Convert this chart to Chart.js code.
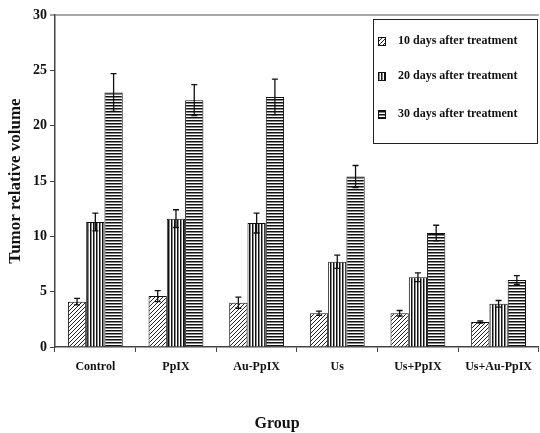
<!DOCTYPE html>
<html>
<head>
<meta charset="utf-8">
<script src="https://cdn.jsdelivr.net/npm/chart.js@4"></script>
<style>
  html, body { margin: 0; padding: 0; background: #fff; }
  #wrap { width: 540px; height: 433px; }
</style>
</head>
<body>
<div id="wrap"><canvas id="c" width="540" height="433"></canvas></div>
<script>
// Tumor relative volume per treatment group
const groups = ['Control', 'PpIX', 'Au-PpIX', 'Us', 'Us+PpIX', 'Us+Au-PpIX'];
const seriesLabels = ['10 days after treatment', '20 days after treatment', '30 days after treatment'];
const day10 = [4.1, 4.6, 4.0, 3.05, 3.05, 2.25];
const day20 = [11.3, 11.6, 11.2, 7.7, 6.3, 3.9];
const day30 = [23.0, 22.3, 22.6, 15.4, 10.3, 6.05];
const err10 = [0.3, 0.5, 0.5, 0.2, 0.25, 0.1];
const err20 = [0.8, 0.8, 0.9, 0.6, 0.4, 0.3];
const err30 = [1.7, 1.4, 1.6, 1.0, 0.7, 0.4];
const yTicks = [0, 5, 10, 15, 20, 25, 30];
const xTitle = 'Group';

const FONT = '"Liberation Serif", "Times New Roman", serif';

function makePattern(kind) {
  const p = document.createElement('canvas');
  const g = p.getContext('2d');
  if (kind === 'diag') {
    p.width = 4; p.height = 4;
    g.fillStyle = '#fff'; g.fillRect(0, 0, 4, 4);
    g.strokeStyle = '#222'; g.lineWidth = 1;
    g.beginPath();
    g.moveTo(-1, 5); g.lineTo(5, -1);
    g.moveTo(-1, 1); g.lineTo(1, -1);
    g.moveTo(3, 5); g.lineTo(5, 3);
    g.stroke();
  } else if (kind === 'vert') {
    p.width = 3; p.height = 3;
    g.fillStyle = '#fff'; g.fillRect(0, 0, 3, 3);
    g.fillStyle = '#111'; g.fillRect(0, 0, 1, 3);
    g.fillStyle = '#888'; g.fillRect(1, 0, 1, 3);
  } else {
    p.width = 3; p.height = 3;
    g.fillStyle = '#fff'; g.fillRect(0, 0, 3, 3);
    g.fillStyle = '#111'; g.fillRect(0, 0, 3, 1);
    g.fillStyle = '#888'; g.fillRect(0, 1, 3, 1);
  }
  return document.getElementById('c').getContext('2d').createPattern(p, 'repeat');
}
const fills = [makePattern('diag'), makePattern('vert'), makePattern('horiz')];
const errors = [err10, err20, err30];

// Error bars drawn from each dataset's value and its error
const errorBars = {
  id: 'errorBars',
  afterDatasetsDraw(chart) {
    const ctx = chart.ctx;
    const y = chart.scales.y;
    ctx.save();
    ctx.strokeStyle = '#111';
    ctx.lineWidth = 1.3;
    chart.data.datasets.forEach((ds, i) => {
      const meta = chart.getDatasetMeta(i);
      meta.data.forEach((bar, j) => {
        const v = ds.data[j], e = errors[i][j];
        const yt = y.getPixelForValue(v + e), yb = y.getPixelForValue(v - e);
        const x = bar.x;
        ctx.beginPath();
        ctx.moveTo(x, yt); ctx.lineTo(x, yb);
        ctx.moveTo(x - 3, yt); ctx.lineTo(x + 3, yt);
        ctx.moveTo(x - 3, yb); ctx.lineTo(x + 3, yb);
        ctx.stroke();
      });
    });
    ctx.restore();
  }
};

// Boxed legend inside the top right of the plot, plus the x-axis caption
const boxLegend = {
  id: 'boxLegend',
  afterDraw(chart) {
    const ctx = chart.ctx;
    const x0 = 373, y0 = 19, w = 164, h = 124;
    ctx.save();
    ctx.fillStyle = '#fff';
    ctx.fillRect(x0, y0, w, h);
    ctx.strokeStyle = '#222';
    ctx.lineWidth = 1;
    ctx.strokeRect(x0 + 0.5, y0 + 0.5, w, h);
    const rows = [41, 76, 114];
    ctx.font = 'bold 12px ' + FONT;
    ctx.textBaseline = 'middle';
    chart.data.datasets.forEach((ds, i) => {
      const cy = rows[i];
      ctx.fillStyle = ds.backgroundColor;
      ctx.fillRect(378, cy - 4, 7, 8);
      ctx.strokeStyle = '#111';
      ctx.strokeRect(378.5, cy - 3.5, 7, 8);
      ctx.fillStyle = '#111';
      ctx.fillText(ds.label, 398, cy);
    });
    ctx.font = 'bold 16px ' + FONT;
    ctx.textAlign = 'center';
    ctx.fillText(xTitle, 277, 424);
    ctx.restore();
  }
};

new Chart(document.getElementById('c'), {
  type: 'bar',
  data: {
    labels: groups,
    datasets: [
      { label: seriesLabels[0], data: day10, backgroundColor: fills[0] },
      { label: seriesLabels[1], data: day20, backgroundColor: fills[1] },
      { label: seriesLabels[2], data: day30, backgroundColor: fills[2] }
    ].map(d => Object.assign(d, {
      borderColor: '#111', borderWidth: 1,
      categoryPercentage: 0.68, barPercentage: 1.0
    }))
  },
  options: {
    responsive: false,
    animation: false,
    layout: { padding: { top: 15, right: 0, left: 0, bottom: 0 } },
    plugins: { legend: { display: false }, tooltip: { enabled: false } },
    scales: {
      x: {
        offset: true,
        afterFit(s) { s.height = 86; },
        grid: { display: true, drawOnChartArea: false, offset: true, tickLength: 5, color: '#444', tickColor: '#444' },
        border: { display: true, color: '#444', width: 1.5 },
        ticks: { color: '#111', padding: 8, font: { family: FONT, size: 12, weight: 'bold' } },
        title: { display: false }
      },
      y: {
        min: 0, max: 30,
        afterFit(s) { s.width = 55; },
        afterBuildTicks(s) { s.ticks = yTicks.map(v => ({ value: v })); },
        grid: {
          drawOnChartArea: true, tickLength: 5,
          color: c => (c.tick && c.tick.value === 30 ? '#a8a8a8' : 'rgba(0,0,0,0)'),
          lineWidth: c => (c.tick && c.tick.value === 30 ? 2 : 1),
          tickColor: '#444', tickWidth: 1
        },
        border: { display: true, color: '#444', width: 1.5 },
        ticks: { color: '#111', padding: 3, font: { family: FONT, size: 14, weight: 'bold' } },
        title: { display: true, text: 'Tumor relative volume', color: '#111', padding: { top: 5, bottom: 0 },
                 font: { family: FONT, size: 17, weight: 'bold' } }
      }
    }
  },
  plugins: [errorBars, boxLegend]
});
</script>
</body>
</html>
